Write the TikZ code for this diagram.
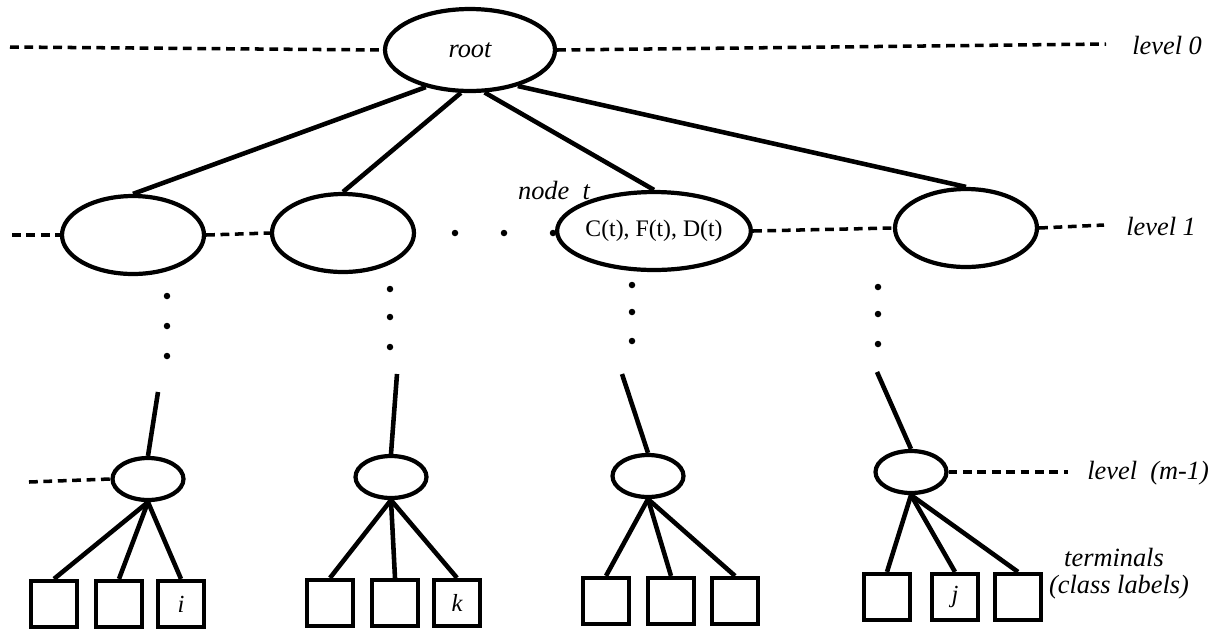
\documentclass[tikz,border=0pt]{standalone}
\usepackage{fontspec}
\setmainfont{Liberation Serif}
\usetikzlibrary{shapes.geometric}

\tikzset{
  bignode/.style={ellipse, draw, line width=2.4pt, minimum width=2.84cm, minimum height=1.56cm, inner sep=0pt},
  smallnode/.style={ellipse, draw, line width=2.4pt, minimum width=1.42cm, minimum height=0.84cm, inner sep=0pt},
  leafbox/.style={rectangle, draw, line width=2.4pt, minimum size=0.92cm, inner sep=0pt, font=\fontsize{14}{16}\selectfont\itshape},
  branch/.style={line width=2.6pt},
  levelline/.style={line width=2pt, dash pattern=on 5pt off 3.2pt},
  lvltext/.style={font=\fontsize{15}{17}\selectfont\itshape, inner sep=0pt},
}

\begin{document}
\begin{tikzpicture}[x=0.02cm, y=-0.02cm]
\useasboundingbox (0,0) rectangle (1221,630);
% body of the tree
	\node[ellipse, draw, line width=2.4pt, minimum width=3.4cm, minimum height=1.64cm, inner sep=0pt,
	      font=\fontsize{15}{17}\selectfont\itshape] (root) at (470,50) {root};
	\node[bignode] (e1) at (133,235) {};
	\node[bignode] (e2) at (343,233) {};
	\node[bignode, font=\fontsize{13.5}{16}\selectfont] (nt) at (654,231) {C(t), F(t), D(t)};
	\node[bignode] (e4) at (966,228) {};
	\draw[branch] (root.-140) -- (e1.north);
	\draw[branch] (root.-102) -- (e2.north);
	\draw[branch] (root.-71) -- (nt.north);
	\draw[branch] (root.-37) -- (e4.north);

	\foreach \n/\x/\y in {m1/148/479, m2/391/477, m3/648/476, m4/911/472}
	\node[smallnode] (\n) at (\x,\y) {};
	\foreach \n/\x/\y in {t1/158/392, t2/397/374, t3/622/374, t4/877/372}
	\coordinate (\n) at (\x,\y);
	\foreach \i in {1,2,3,4}
	\draw[branch] (t\i) -- (m\i.north);

% terminals
	\foreach \s/\x/\y/\t in {a1/54/604/{}, a2/119/604/{}, a3/181/604/i,
	                         b1/330/603/{}, b2/395/603/{}, b3/457/603/k,
	                         c1/606/601/{}, c2/671/601/{}, c3/735/601/{},
	                         d1/887/597/{}, d2/955/597/j, d3/1018/597/{}}
	\node[leafbox] (\s) at (\x,\y) {\t};
	\foreach \m/\s in {m1/a1, m1/a2, m1/a3, m2/b1, m2/b2, m2/b3,
	                   m3/c1, m3/c2, m3/c3, m4/d1, m4/d2, m4/d3}
	\draw[branch] (\m.south) -- (\s.north);

% dots
	\foreach \x/\y in {167/296, 167/326, 167/356, 390/289, 390/317, 390/347,
	                   632/285, 632/312, 632/341, 878/287, 878/314, 878/344,
	                   455/233, 504/233, 553/233}
	\fill (\x,\y) circle (0.065cm);

% level lines
	\coordinate (l0a) at (10,47);
	\coordinate (l0b) at (1106,44);
	\coordinate (l1a) at (12,235);
	\coordinate (l1b) at (1104,225);
	\coordinate (lma) at (29,482);
	\coordinate (lmb) at (1068,472);
	\draw[levelline] (l0a) -- (root.west);
	\draw[levelline] (root.east) -- (l0b);
	\draw[levelline] (l1a) -- (e1.west);
	\draw[levelline] (e1.east) -- (e2.west);
	\draw[levelline] (nt.east) -- (e4.west);
	\draw[levelline] (e4.east) -- (l1b);
	\draw[levelline] (lma) -- (m1.west);
	\draw[levelline] (m4.east) -- (lmb);

% labels
	\node[lvltext, anchor=west] (lv0) at (1132,45) {level 0};
	\node[lvltext, anchor=west] (lv1) at (1126,226) {level 1};
	\node[lvltext, anchor=west] (lvm) at (1087,473) {level\ \ (m-1)};
	\node[lvltext] (nodet) at (554,190) {node\ \ t};
	\node[lvltext] (term) at (1114,557) {terminals};
	\node[lvltext] (cls) at (1119,587) {(class labels)};

\end{tikzpicture}
\end{document}
